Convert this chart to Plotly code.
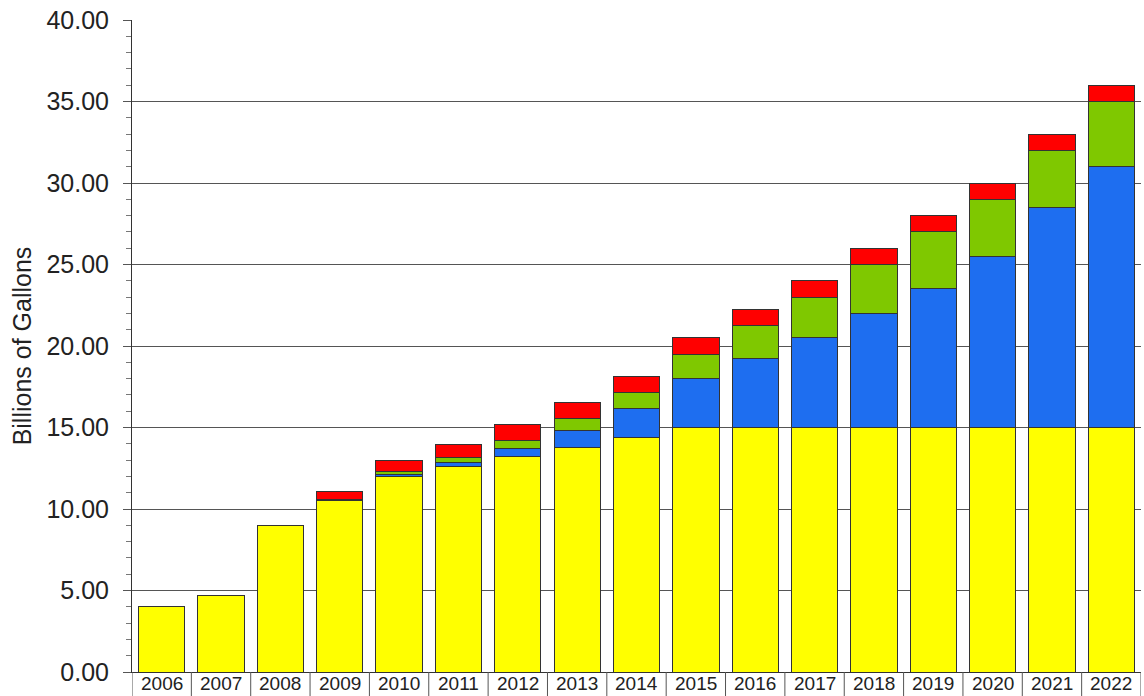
import plotly.graph_objects as go

years = ["2006", "2007", "2008", "2009", "2010", "2011", "2012", "2013", "2014",
         "2015", "2016", "2017", "2018", "2019", "2020", "2021", "2022"]
conventional = [4.0, 4.7, 9.0, 10.5, 12.0, 12.6, 13.2, 13.8, 14.4,
                15.0, 15.0, 15.0, 15.0, 15.0, 15.0, 15.0, 15.0]
cellulosic = [0, 0, 0, 0, 0.1, 0.25, 0.5, 1.0, 1.75,
              3.0, 4.25, 5.5, 7.0, 8.5, 10.5, 13.5, 16.0]
other_advanced = [0, 0, 0, 0.1, 0.2, 0.3, 0.5, 0.75, 1.0,
                  1.5, 2.0, 2.5, 3.0, 3.5, 3.5, 3.5, 4.0]
biodiesel = [0, 0, 0, 0.5, 0.65, 0.8, 1.0, 1.0, 1.0,
             1.0, 1.0, 1.0, 1.0, 1.0, 1.0, 1.0, 1.0]

series = [
    ("Conventional", conventional, "#FFFF00"),
    ("Cellulosic", cellulosic, "#1E6EF0"),
    ("Other Advanced", other_advanced, "#7FC800"),
    ("Biomass-based Diesel", biodiesel, "#FF0000"),
]

W, H = 1144, 696
M_L, M_R, M_T, M_B = 132, 3, 20, 24
plot_h = H - M_T - M_B

fig = go.Figure()
for name, vals, col in series:
    fig.add_trace(go.Bar(
        x=years, y=vals, name=name,
        marker=dict(color=col, line=dict(color="#333333", width=1)),
    ))

shapes = []
for i in range(len(years) + 1):
    shapes.append(dict(type="line", xref="x", yref="paper",
                       x0=i - 0.5, x1=i - 0.5, y0=0, y1=-M_B / plot_h,
                       line=dict(color="#555555", width=1)))

annotations = []
for i, yr in enumerate(years):
    annotations.append(dict(x=i, xref="x", y=-M_B / plot_h, yref="paper",
                            yanchor="bottom", xanchor="center",
                            text=yr, showarrow=False,
                            borderpad=0, yshift=1,
                            font=dict(size=19, color="#222222")))

fig.update_layout(
    width=W, height=H,
    margin=dict(l=M_L, r=M_R, t=M_T, b=M_B),
    barmode="stack",
    bargap=0.22,
    showlegend=False,
    plot_bgcolor="white",
    paper_bgcolor="white",
    font=dict(family="Liberation Sans, Arial, sans-serif", size=20, color="#222222"),
    shapes=shapes,
    annotations=annotations,
)
fig.update_xaxes(
    type="category",
    automargin=False,
    showgrid=False,
    showline=True, linecolor="#333333", linewidth=1,
    ticks="",
    showticklabels=False,
    range=[-0.5, len(years) - 0.5],
)
fig.update_yaxes(
    automargin=False,
    range=[0, 40],
    dtick=5,
    tickformat=".2f",
    showgrid=True, gridcolor="#555555", gridwidth=1,
    showline=True, linecolor="#333333", linewidth=1,
    ticks="outside", ticklen=8, tickcolor="#555555",
    ticklabelstandoff=9,
    minor=dict(dtick=1, ticks="outside", ticklen=5, tickcolor="#777777", showgrid=False),
    zeroline=False,
    title=dict(text="Billions of Gallons", font=dict(size=25, color="#222222"), standoff=7),
    tickfont=dict(size=25, color="#222222"),
)

fig.write_html("out.html")
